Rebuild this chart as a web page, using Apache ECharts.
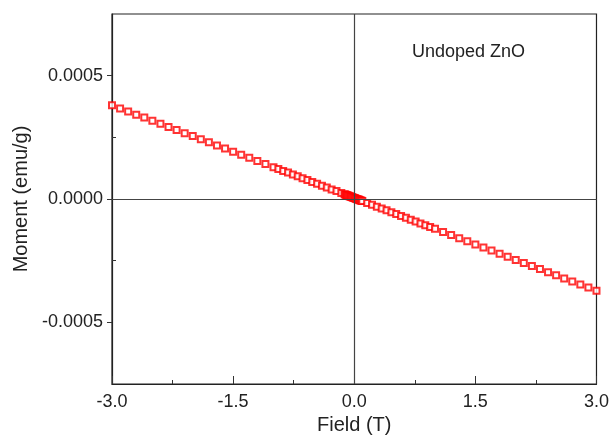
<!DOCTYPE html>
<html><head><meta charset="utf-8">
<script src="https://cdn.jsdelivr.net/npm/echarts@6/dist/echarts.min.js"></script>
<style>html,body{margin:0;padding:0;background:#fff}#c{width:612px;height:441px}</style>
</head><body><div id="c"></div>
<script>
// Field (T)
var fieldT = [
 -3.0,-2.9,-2.8,-2.7,-2.6,-2.5,-2.4,-2.3,-2.2,-2.1,-2.0,-1.9,-1.8,-1.7,-1.6,-1.5,-1.4,-1.3,-1.2,-1.1,-1.0,
 -0.94,-0.88,-0.82,-0.76,-0.70,-0.64,-0.58,-0.52,-0.46,-0.40,-0.34,-0.28,-0.22,-0.16,
 -0.12,-0.11,-0.10,-0.09,-0.08,-0.07,-0.06,-0.05,-0.04,-0.03,-0.02,-0.01,0.00,0.01,0.02,0.03,0.04,0.05,0.06,0.07,0.08,0.09,0.10,
 0.16,0.22,0.28,0.34,0.40,0.46,0.52,0.58,0.64,0.70,0.76,0.82,0.88,0.94,
 1.0,1.1,1.2,1.3,1.4,1.5,1.6,1.7,1.8,1.9,2.0,2.1,2.2,2.3,2.4,2.5,2.6,2.7,2.8,2.9,3.0
];
// Moment (emu/g)
var moment = [
 0.000380,0.000367,0.000355,0.000342,0.000330,0.000317,0.000305,0.000292,0.000280,0.000267,0.000255,0.000242,0.000230,0.000217,0.000205,0.000192,0.000179,0.000167,0.000154,0.000142,0.000129,
 0.000122,0.000114,0.000107,0.000099,0.000092,0.000084,0.000077,0.000069,0.000062,0.000054,0.000047,0.000039,0.000032,0.000024,
 0.000019,0.0000178,0.0000165,0.0000153,0.000014,0.0000128,0.0000115,0.0000103,0.000009,0.0000078,0.0000065,0.0000053,0.000004,0.0000028,0.0000015,0.0000003,-0.000001,-0.0000023,-0.0000035,-0.0000048,-0.000006,-0.0000073,-0.0000085,
 -0.000016,-0.0000236,-0.000031,-0.000039,-0.000046,-0.000054,-0.000061,-0.000069,-0.000076,-0.000084,-0.000091,-0.000099,-0.000106,-0.000114,
 -0.000121,-0.000134,-0.000146,-0.000159,-0.000171,-0.000184,-0.000197,-0.000209,-0.000222,-0.000234,-0.000247,-0.000259,-0.000272,-0.000284,-0.000297,-0.000309,-0.000322,-0.000334,-0.000347,-0.000359,-0.000372
];
var xMajorTicks = [-3.0,-1.5,0.0,1.5,3.0];
var xMinorTicks = [-2.25,-0.75,0.75,2.25];
var yMajorTicks = [-0.0005,0,0.0005];
var yMinorTicks = [-0.00025,0.00025];
var annotation = 'Undoped ZnO';

var pts = fieldT.map(function(x,i){return [x, moment[i]];});
var font = 'Liberation Sans, Arial, sans-serif';
var chart = echarts.init(document.getElementById('c'), null, {renderer:'canvas'});
chart.setOption({
  animation:false,
  backgroundColor:'#fff',
  grid:{left:112,right:13,top:14,bottom:57,show:true,borderColor:'#222',borderWidth:1.2,backgroundColor:'transparent'},
  xAxis:[{
    type:'value',min:-3,max:3,interval:1.5,position:'bottom',
    name:'Field (T)',nameLocation:'middle',nameGap:27,
    nameTextStyle:{fontFamily:font,fontSize:20,color:'#222'},
    axisLine:{onZero:false,lineStyle:{color:'#222',width:1.2}},
    axisTick:{inside:true,length:8,lineStyle:{color:'#333'},customValues:xMajorTicks},
    axisLabel:{fontFamily:font,fontSize:18,color:'#222',margin:9,customValues:xMajorTicks,formatter:function(v){return v.toFixed(1);}},
    splitLine:{show:false}
  },{
    type:'value',min:-3,max:3,position:'bottom',gridIndex:0,
    axisLine:{show:false,onZero:false},
    axisTick:{inside:true,length:4,lineStyle:{color:'#333'},customValues:xMinorTicks},
    axisLabel:{show:false},splitLine:{show:false}
  }],
  yAxis:[{
    type:'value',min:-0.00075,max:0.00075,interval:0.00025,position:'left',
    name:'Moment (emu/g)',nameLocation:'middle',nameGap:80,
    nameTextStyle:{fontFamily:font,fontSize:20,color:'#222'},
    axisLine:{onZero:false,lineStyle:{color:'#222',width:1.2}},
    axisTick:{inside:false,length:5,lineStyle:{color:'#333'},customValues:yMajorTicks},
    axisLabel:{fontFamily:font,fontSize:18,color:'#222',margin:9,customValues:yMajorTicks,formatter:function(v){return v.toFixed(4);}},
    splitLine:{show:false}
  },{
    type:'value',min:-0.00075,max:0.00075,position:'left',gridIndex:0,
    axisLine:{show:false,onZero:false},
    axisTick:{inside:true,length:4,lineStyle:{color:'#333'},customValues:yMinorTicks},
    axisLabel:{show:false},splitLine:{show:false}
  }],
  series:[{
    type:'line',data:[],z:1,silent:true,
    markLine:{silent:true,symbol:'none',label:{show:false},animation:false,
      lineStyle:{color:'#444',width:1.2,type:'solid'},
      data:[{xAxis:0},{yAxis:0}]}
  },{
    type:'scatter',data:pts,z:3,symbol:'emptyRect',symbolSize:6,clip:true,
    itemStyle:{color:'#ff0000',borderColor:'#ff0000',borderWidth:1.3}
  }],
  graphic:[{type:'text',left:412,top:43,style:{text:annotation,fontFamily:font,fontSize:18,fill:'#222'}}]
});
</script></body></html>
